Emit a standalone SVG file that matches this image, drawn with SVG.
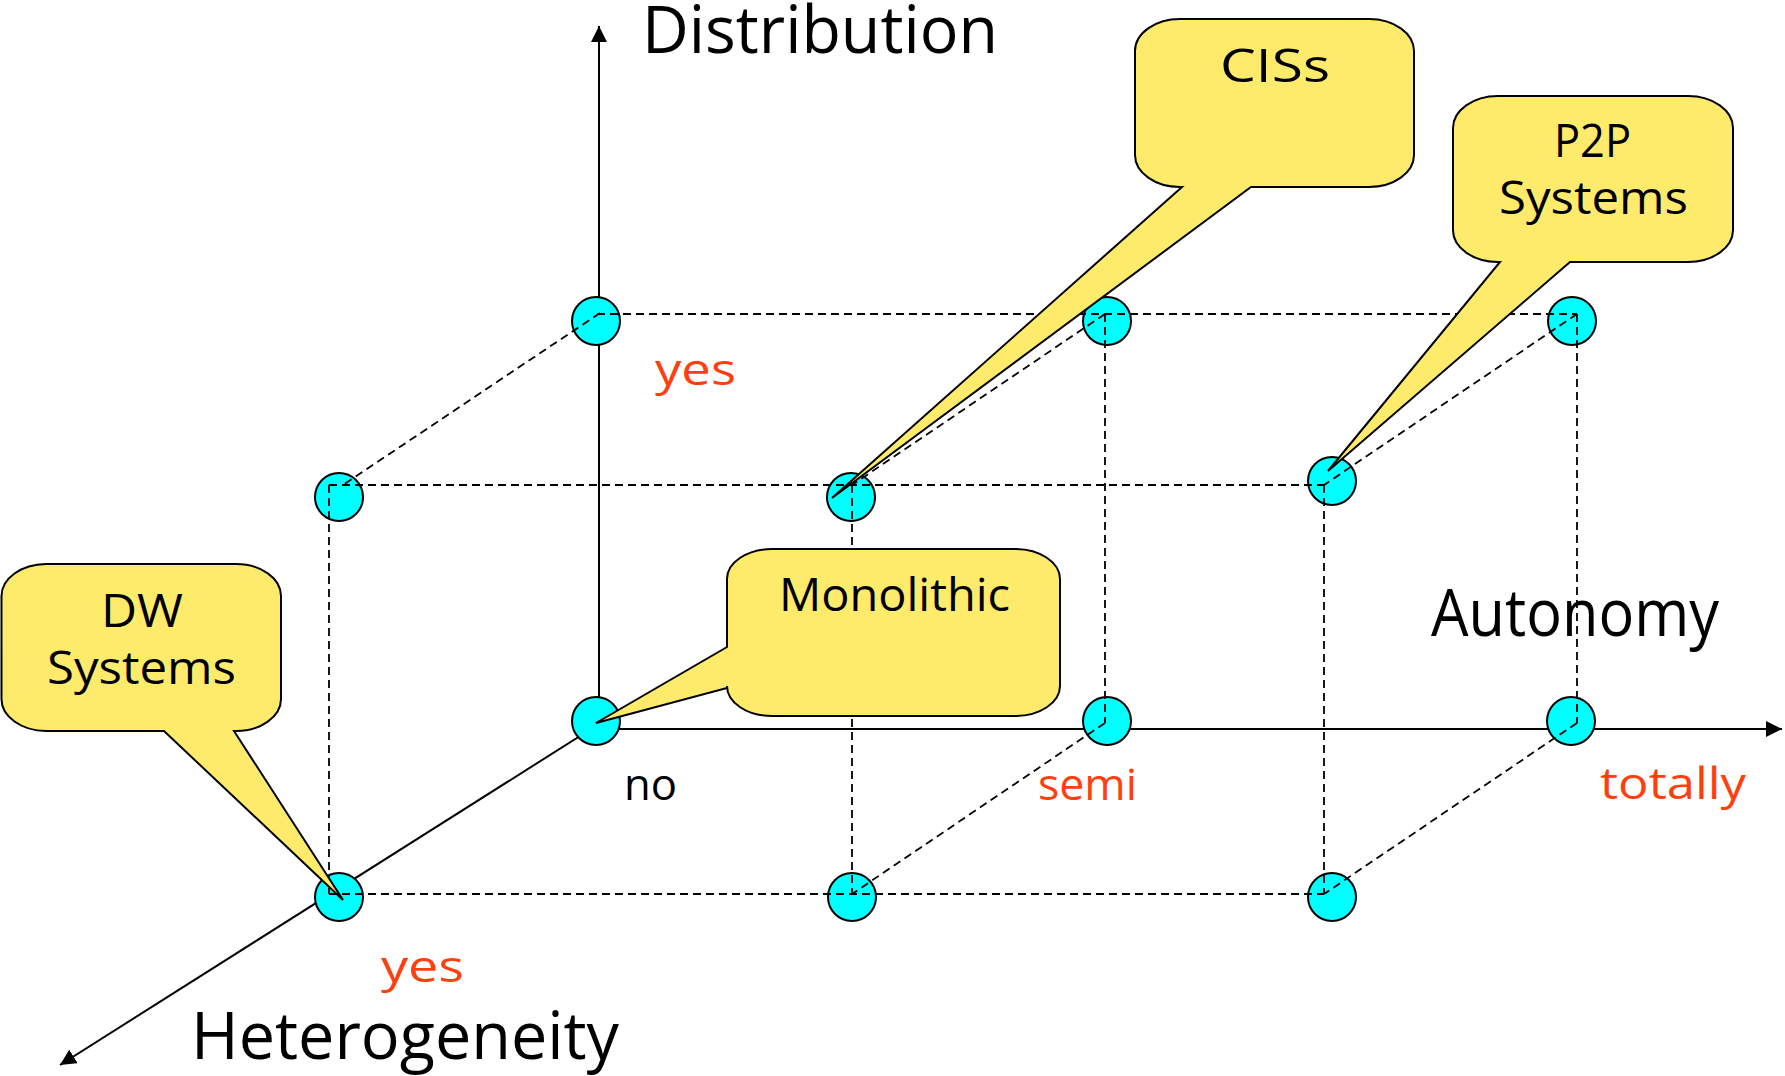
<svg xmlns="http://www.w3.org/2000/svg" width="1785" height="1076" viewBox="0 0 1785 1076">
  <style>
    .axis { stroke: #000; stroke-width: 2; fill: none; }
    .grid { stroke: #000; stroke-width: 1.8; stroke-dasharray: 8 5; fill: none; }
    .pt { fill: #00FFFF; stroke: #000; stroke-width: 2; }
    .callout { fill: #FFEB6B; stroke: #000; stroke-width: 2; stroke-linejoin: miter; }
    text { font-family: "Open Sans", "DejaVu Sans", sans-serif; fill: #000; }
    .axis-label { font-size: 66px; }
    .bubble-text { font-size: 46px; text-anchor: start; }
    .value { font-size: 43px; fill: #FF3F0F; }
    .value-black { font-size: 44px; fill: #000; }
  </style>
  <defs>
    <marker id="arrow" markerUnits="userSpaceOnUse" markerWidth="17" markerHeight="16" refX="16" refY="8" orient="auto">
      <path d="M0,0 L16,8 L0,16 z" fill="#000"/>
    </marker>
  </defs>

  <rect width="1785" height="1076" fill="#fff"/>

  <!-- solid axes -->
  <g id="axes">
    <line class="axis" x1="599" y1="729" x2="599" y2="26" marker-end="url(#arrow)"/>
    <line class="axis" x1="599" y1="729" x2="1782" y2="729" marker-end="url(#arrow)"/>
    <line class="axis" x1="599" y1="724" x2="60" y2="1065" marker-end="url(#arrow)"/>
  </g>

  <!-- lattice points -->
  <g id="node-back-top-no"><circle class="pt" cx="596" cy="321" r="24"/></g>
  <g id="node-back-top-semi"><circle class="pt" cx="1107" cy="321" r="24"/></g>
  <g id="node-back-top-totally"><circle class="pt" cx="1572" cy="321" r="24"/></g>
  <g id="node-front-top-no"><circle class="pt" cx="339" cy="497" r="24"/></g>
  <g id="node-front-top-semi"><circle class="pt" cx="851" cy="497" r="24"/></g>
  <g id="node-front-top-totally"><circle class="pt" cx="1332" cy="481" r="24"/></g>
  <g id="node-origin"><circle class="pt" cx="596" cy="721" r="24"/></g>
  <g id="node-back-bottom-semi"><circle class="pt" cx="1107" cy="721" r="24"/></g>
  <g id="node-back-bottom-totally"><circle class="pt" cx="1571" cy="721" r="24"/></g>
  <g id="node-front-bottom-no"><circle class="pt" cx="339" cy="897" r="24"/></g>
  <g id="node-front-bottom-semi"><circle class="pt" cx="852" cy="897" r="24"/></g>
  <g id="node-front-bottom-totally"><circle class="pt" cx="1332" cy="897" r="24"/></g>

  <!-- dashed lattice edges -->
  <g id="connectors">
    <line class="grid" x1="597" y1="314" x2="1577" y2="314"/>
    <line class="grid" x1="329" y1="485" x2="1324" y2="485"/>
    <line class="grid" x1="329" y1="894" x2="1324" y2="894"/>
    <line class="grid" x1="329" y1="485" x2="329" y2="894"/>
    <line class="grid" x1="852" y1="485" x2="852" y2="894"/>
    <line class="grid" x1="1324" y1="485" x2="1324" y2="894"/>
    <line class="grid" x1="1105" y1="314" x2="1105" y2="723"/>
    <line class="grid" x1="1577" y1="314" x2="1577" y2="723"/>
    <line class="grid" x1="600" y1="313" x2="343" y2="485"/>
    <line class="grid" x1="1105" y1="314" x2="852" y2="485"/>
    <line class="grid" x1="1577" y1="314" x2="1324" y2="485"/>
    <line class="grid" x1="1105" y1="723" x2="852" y2="894"/>
    <line class="grid" x1="1577" y1="723" x2="1324" y2="894"/>
  </g>

  <!-- callouts -->
  <g id="callout-ciss">
    <path class="callout" d="M1181,19 H1369 A45 32 0 0 1 1414,51 V155 A45 32 0 0 1 1369,187 H1251 L832,498 L1182,187 H1180 A45 32 0 0 1 1135,155 V51 A45 32 0 0 1 1181,19 Z"/>
    <text class="bubble-text" x="1220" y="82" font-size="48" textLength="110" lengthAdjust="spacingAndGlyphs">CISs</text>
  </g>
  <g id="callout-p2p">
    <path class="callout" d="M1498,96 H1688 A45 32 0 0 1 1733,128 V230 A45 32 0 0 1 1688,262 H1570 L1328,471 L1500,262 H1498 A45 32 0 0 1 1453,230 V128 A45 32 0 0 1 1498,96 Z"/>
    <text class="bubble-text" x="1554" y="157" textLength="77" lengthAdjust="spacingAndGlyphs">P2P</text>
    <text class="bubble-text" x="1499" y="214" textLength="189" lengthAdjust="spacingAndGlyphs">Systems</text>
  </g>
  <g id="callout-dw">
    <path class="callout" d="M46,564 H236 A45 32 0 0 1 281,596 V699 A45 32 0 0 1 236,731 H234 L343,900 L164,731 H46 A45 32 0 0 1 1.5,699 V596 A45 32 0 0 1 46,564 Z"/>
    <text class="bubble-text" x="101" y="627" textLength="82" lengthAdjust="spacingAndGlyphs">DW</text>
    <text class="bubble-text" x="47" y="684" textLength="189" lengthAdjust="spacingAndGlyphs">Systems</text>
  </g>
  <g id="callout-monolithic">
    <path class="callout" d="M772,549 H1015 A45 30 0 0 1 1060,579 V686 A45 30 0 0 1 1015,716 H772 A45 30 0 0 1 727,686 V688 L596,723 L727,647 V579 A45 30 0 0 1 772,549 Z"/>
    <text class="bubble-text" x="779" y="611" textLength="231" lengthAdjust="spacingAndGlyphs">Monolithic</text>
  </g>

  <!-- axis titles -->
  <g id="labels">
    <text class="axis-label" x="642" y="53" textLength="356" lengthAdjust="spacingAndGlyphs">Distribution</text>
    <text class="axis-label" x="1431" y="636" textLength="288" lengthAdjust="spacingAndGlyphs">Autonomy</text>
    <text class="axis-label" x="191" y="1059" textLength="428" lengthAdjust="spacingAndGlyphs">Heterogeneity</text>

    <!-- axis values -->
    <text class="value" x="655" y="385" textLength="81" lengthAdjust="spacingAndGlyphs">yes</text>
    <text class="value" x="381" y="982" textLength="83" lengthAdjust="spacingAndGlyphs">yes</text>
    <text class="value-black" x="624" y="800" textLength="53" lengthAdjust="spacingAndGlyphs">no</text>
    <text class="value" x="1038" y="800" textLength="99" lengthAdjust="spacingAndGlyphs">semi</text>
    <text class="value" x="1600" y="799" textLength="146" lengthAdjust="spacingAndGlyphs">totally</text>
  </g>
</svg>
